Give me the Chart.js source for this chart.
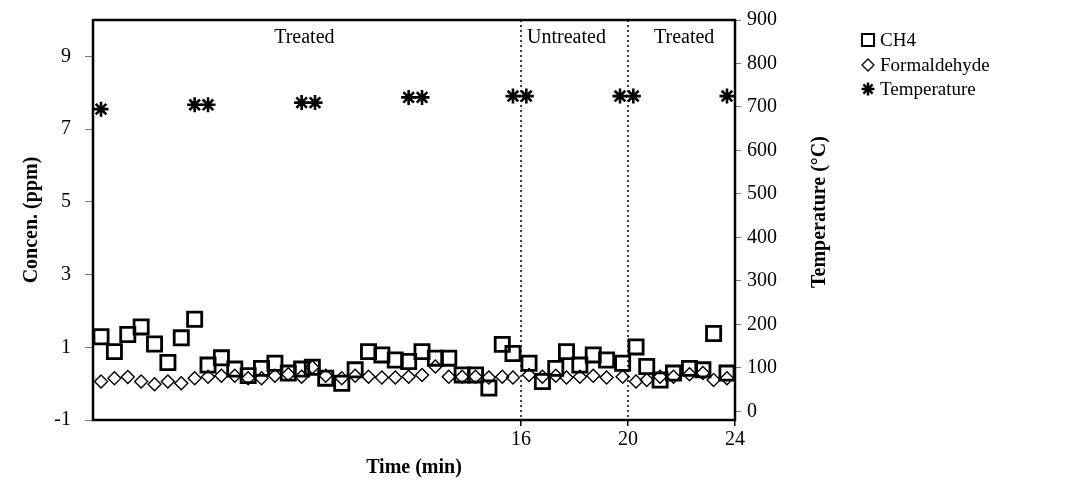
<!DOCTYPE html>
<html>
<head>
<meta charset="utf-8">
<script src="https://cdn.jsdelivr.net/npm/chart.js@4/dist/chart.umd.min.js"></script>
<style>
  body { margin: 0; background: #fff; }
  canvas { display: block; }
</style>
</head>
<body>
<canvas id="myChart" width="1072" height="488"></canvas>
<script>
// sample times (min) for the CH4 / formaldehyde readings
const sampleTimes = [
  0.3, 0.8, 1.3, 1.8, 2.3, 2.8, 3.3, 3.8, 4.3, 4.8, 5.3, 5.8, 6.3, 6.8, 7.3, 7.8,
  8.2, 8.7, 9.3, 9.8, 10.3, 10.8, 11.3, 11.8, 12.3, 12.8, 13.3, 13.8, 14.3, 14.8, 15.3, 15.7,
  16.3, 16.8, 17.3, 17.7, 18.2, 18.7, 19.2, 19.8, 20.3, 20.7, 21.2, 21.7, 22.3, 22.8, 23.2, 23.7,
]
const ch4Values = [
  1.29, 0.88, 1.35, 1.56, 1.09, 0.58, 1.26, 1.77, 0.51, 0.71, 0.40, 0.22, 0.42, 0.56, 0.29, 0.40,
  0.45, 0.15, 0.01, 0.38, 0.88, 0.79, 0.65, 0.61, 0.88, 0.70, 0.70, 0.24, 0.24, -0.12, 1.08, 0.83,
  0.56, 0.06, 0.42, 0.88, 0.51, 0.79, 0.65, 0.56, 1.01, 0.47, 0.10, 0.29, 0.42, 0.38, 1.38, 0.29,
]
const formaldehydeValues = [
  0.06, 0.15, 0.18, 0.06, -0.02, 0.06, 0.01, 0.15, 0.19, 0.22, 0.22, 0.15, 0.15, 0.22, 0.26, 0.19,
  0.45, 0.22, 0.15, 0.22, 0.19, 0.17, 0.17, 0.19, 0.24, 0.47, 0.19, 0.19, 0.19, 0.17, 0.19, 0.17,
  0.24, 0.19, 0.22, 0.17, 0.19, 0.22, 0.17, 0.19, 0.06, 0.10, 0.19, 0.19, 0.26, 0.29, 0.10, 0.15,
]
const tempTimes = [0.3, 3.8, 4.3, 7.8, 8.3, 11.8, 12.3, 15.7, 16.2, 19.7, 20.2, 23.7]
const tempValues = [695, 705, 705, 710, 710, 722, 722, 725, 725, 725, 725, 725]

const xTicks = [16, 20, 24]
const concTicks = [-1, 1, 3, 5, 7, 9]
const tempTicks = [0, 100, 200, 300, 400, 500, 600, 700, 800, 900]

const phaseLines = [16, 20]
const phaseLabels = [
  { text: 'Treated', x: 7.9 },
  { text: 'Untreated', x: 17.7 },
  { text: 'Treated', x: 22.1 },
]

const FONT = '"Liberation Serif", "Times New Roman", serif'

const toPoints = (xs, ys) => xs.map((x, i) => ({ x, y: ys[i] }))
const fixTicks = (values) => (scale) => {
  scale.ticks = values.map((v) => ({ value: v }))
}
// fixed axis width, and no extra room reserved for the end tick labels
const fitY = (width) => (scale) => {
  scale.width = width
  scale.paddingTop = 0
  scale.paddingBottom = 0
}

// frame, dotted phase lines, phase labels and the right axis title
const decorations = {
  id: 'decorations',
  afterDatasetsDraw(chart) {
    const { ctx, chartArea, scales } = chart
    ctx.save()
    ctx.strokeStyle = '#000'
    ctx.lineWidth = 1.5
    ctx.setLineDash([2, 3])
    phaseLines.forEach((t) => {
      const px = scales.x.getPixelForValue(t)
      ctx.beginPath()
      ctx.moveTo(px, chartArea.top)
      ctx.lineTo(px, chartArea.bottom)
      ctx.stroke()
    })
    ctx.setLineDash([])
    ctx.lineWidth = 2.5
    ctx.strokeRect(chartArea.left, chartArea.top, chartArea.right - chartArea.left, chartArea.bottom - chartArea.top)

    ctx.fillStyle = '#000'
    ctx.font = '20px ' + FONT
    ctx.textAlign = 'center'
    ctx.textBaseline = 'middle'
    phaseLabels.forEach((l) => {
      ctx.fillText(l.text, scales.x.getPixelForValue(l.x), scales.y.getPixelForValue(9.5))
    })

    // Chart.js turns right-hand titles the other way, so draw this one by hand
    ctx.font = 'bold 20px ' + FONT
    ctx.translate(scales.y1.right - 15, (chartArea.top + chartArea.bottom) / 2 - 8)
    ctx.rotate(-Math.PI / 2)
    ctx.fillText('Temperature (°C)', 0, 0)
    ctx.restore()
  },
}

// legend to the right of the plot
const sideLegend = {
  id: 'sideLegend',
  afterDraw(chart) {
    const { ctx } = chart
    const items = [
      { text: 'CH4', style: 'rect', radius: 8.5, width: 2, y: 40 },
      { text: 'Formaldehyde', style: 'rectRot', radius: 6, width: 1.3, y: 65 },
      { text: 'Temperature', style: 'star', radius: 6.5, width: 2.5, y: 89 },
    ]
    ctx.save()
    ctx.font = '19px ' + FONT
    ctx.textBaseline = 'middle'
    items.forEach((it) => {
      ctx.strokeStyle = '#000'
      ctx.fillStyle = '#fff'
      ctx.lineWidth = it.width
      Chart.helpers.drawPoint(ctx, { pointStyle: it.style, radius: it.radius, rotation: 0, borderWidth: it.width }, 868, it.y)
      ctx.fillStyle = '#000'
      ctx.fillText(it.text, 880, it.y + 1)
    })
    ctx.restore()
  },
}

const ctx = document.getElementById('myChart')

new Chart(ctx, {
  type: 'scatter',
  data: {
    datasets: [
      {
        label: 'CH4',
        data: toPoints(sampleTimes, ch4Values),
        yAxisID: 'y',
        pointStyle: 'rect',
        pointRadius: 10,
        borderColor: '#000',
        backgroundColor: 'rgba(255,255,255,0)',
        borderWidth: 2.8,
      },
      {
        label: 'Formaldehyde',
        data: toPoints(sampleTimes, formaldehydeValues),
        yAxisID: 'y',
        pointStyle: 'rectRot',
        pointRadius: 6.5,
        borderColor: '#000',
        backgroundColor: 'rgba(255,255,255,0)',
        borderWidth: 1.4,
      },
      {
        label: 'Temperature',
        data: toPoints(tempTimes, tempValues),
        yAxisID: 'y1',
        pointStyle: 'star',
        pointRadius: 7.5,
        borderColor: '#000',
        borderWidth: 2.6,
      },
    ],
  },
  options: {
    responsive: false,
    animation: false,
    layout: { padding: { top: 20, left: 16, right: 237, bottom: 4 } },
    plugins: { legend: { display: false }, tooltip: { enabled: false } },
    scales: {
      x: {
        type: 'linear',
        min: 0,
        max: 24,
        afterBuildTicks: fixTicks(xTicks),
        afterFit: (scale) => { scale.height = 64 },
        border: { display: false },
        grid: { drawOnChartArea: false, tickLength: 6, color: '#000', lineWidth: 1.5 },
        ticks: { color: '#000', font: { family: FONT, size: 20 }, padding: 2, maxRotation: 0 },
        title: { display: true, text: 'Time (min)', color: '#000', font: { family: FONT, size: 20, weight: 'bold' } },
      },
      y: {
        position: 'left',
        min: -1,
        max: 10,
        afterBuildTicks: fixTicks(concTicks),
        afterFit: fitY(77),
        border: { display: false },
        grid: { drawOnChartArea: false, tickLength: 8, color: '#777' },
        ticks: { color: '#000', font: { family: FONT, size: 20 }, padding: 14 },
        title: { display: true, text: 'Concen. (ppm)', color: '#000', font: { family: FONT, size: 20, weight: 'bold' } },
      },
      y1: {
        position: 'right',
        min: -20,
        max: 900,
        afterBuildTicks: fixTicks(tempTicks),
        afterFit: fitY(100),
        border: { display: false },
        grid: { drawOnChartArea: false, tickLength: 6, color: '#777' },
        ticks: { color: '#000', font: { family: FONT, size: 20 }, padding: 6 },
      },
    },
  },
  plugins: [decorations, sideLegend],
})
</script>
</body>
</html>
